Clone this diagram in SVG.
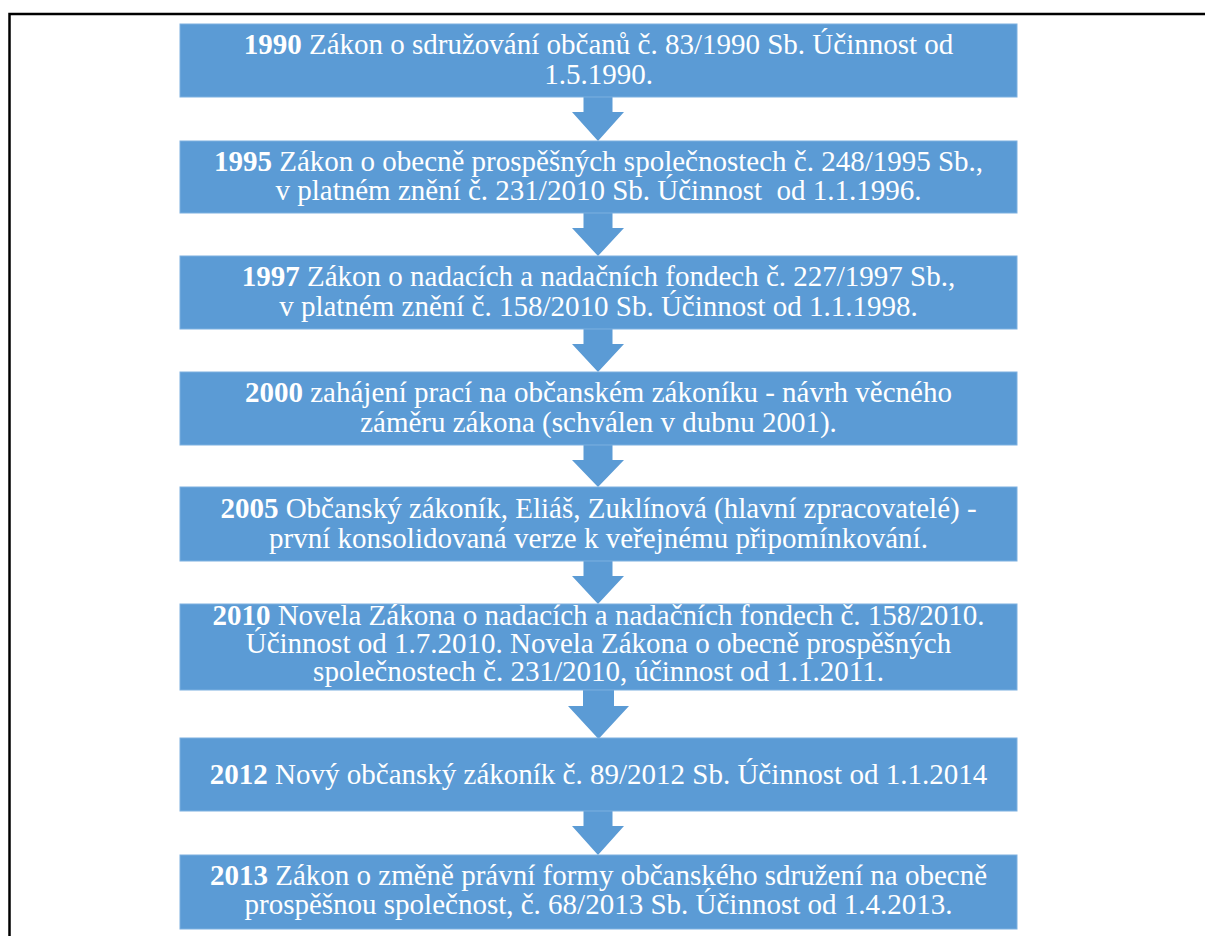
<svg xmlns="http://www.w3.org/2000/svg" width="1205" height="936" viewBox="0 0 1205 936">
  <style>
    .box { fill: #5B9BD5; stroke: #7DB0E0; stroke-width: 1; }
    .arrow { fill: #5B9BD5; }
    .t { font-family: "Liberation Serif", "Times New Roman", serif; font-size: 29px; fill: #ffffff; text-anchor: middle; white-space: pre; }
    .b { font-weight: bold; }
    .frame { fill: none; stroke: #000000; stroke-width: 2.5; }
  </style>

  <rect x="0" y="0" width="1205" height="936" fill="#ffffff"/>

  <!-- page frame -->
  <path class="frame" d="M9.5,936 V14 H1205"/>

  <!-- connectors -->
  <g id="connectors">
    <polygon class="arrow" points="583.5,97 612.5,97 612.5,112 624,112 598,141 572,112 583.5,112"/>
    <polygon class="arrow" points="583.5,213 612.5,213 612.5,228 624,228 598,256 572,228 583.5,228"/>
    <polygon class="arrow" points="583.5,329 612.5,329 612.5,344 624,344 598,372 572,344 583.5,344"/>
    <polygon class="arrow" points="583.5,445 612.5,445 612.5,460 624,460 598,487 572,460 583.5,460"/>
    <polygon class="arrow" points="583.5,561 612.5,561 612.5,576 624,576 598,604 572,576 583.5,576"/>
    <polygon class="arrow" points="583,690 614,690 614,706 629,706 598.5,739 568,706 583,706"/>
    <polygon class="arrow" points="583.5,811 612.5,811 612.5,826 624,826 598,855 572,826 583.5,826"/>
  </g>

  <g id="n1990">
    <rect class="box" x="180" y="24" width="837" height="73"/>
    <text class="t" x="598.5" y="54"><tspan class="b">1990</tspan> Zákon o sdružování občanů č. 83/1990 Sb. Účinnost od</text>
    <text class="t" x="598.5" y="84">1.5.1990.</text>
  </g>

  <g id="n1995">
    <rect class="box" x="180" y="141" width="837" height="72"/>
    <text class="t" x="598.5" y="171"><tspan class="b">1995</tspan> Zákon o obecně prospěšných společnostech č. 248/1995 Sb.,</text>
    <text class="t" x="598.5" y="200">v platném znění č. 231/2010 Sb. Účinnost  od 1.1.1996.</text>
  </g>

  <g id="n1997">
    <rect class="box" x="180" y="256" width="837" height="73"/>
    <text class="t" x="598.5" y="286"><tspan class="b">1997</tspan> Zákon o nadacích a nadačních fondech č. 227/1997 Sb.,</text>
    <text class="t" x="598.5" y="316">v platném znění č. 158/2010 Sb. Účinnost od 1.1.1998.</text>
  </g>

  <g id="n2000">
    <rect class="box" x="180" y="372" width="837" height="73"/>
    <text class="t" x="598.5" y="402"><tspan class="b">2000</tspan> zahájení prací na občanském zákoníku - návrh věcného</text>
    <text class="t" x="598.5" y="432">záměru zákona (schválen v dubnu 2001).</text>
  </g>

  <g id="n2005">
    <rect class="box" x="180" y="487" width="837" height="74"/>
    <text class="t" x="598.5" y="518"><tspan class="b">2005</tspan> Občanský zákoník, Eliáš, Zuklínová (hlavní zpracovatelé) -</text>
    <text class="t" x="598.5" y="548">první konsolidovaná verze k veřejnému připomínkování.</text>
  </g>

  <g id="n2010">
    <rect class="box" x="180" y="604" width="837" height="86"/>
    <text class="t" x="598.5" y="625"><tspan class="b">2010</tspan> Novela Zákona o nadacích a nadačních fondech č. 158/2010.</text>
    <text class="t" x="598.5" y="653">Účinnost od 1.7.2010. Novela Zákona o obecně prospěšných</text>
    <text class="t" x="598.5" y="681">společnostech č. 231/2010, účinnost od 1.1.2011.</text>
  </g>

  <g id="n2012">
    <rect class="box" x="180" y="738" width="837" height="73"/>
    <text class="t" x="598.5" y="784"><tspan class="b">2012</tspan> Nový občanský zákoník č. 89/2012 Sb. Účinnost od 1.1.2014</text>
  </g>

  <g id="n2013">
    <rect class="box" x="180" y="855" width="837" height="74"/>
    <text class="t" x="598.5" y="885"><tspan class="b">2013</tspan> Zákon o změně právní formy občanského sdružení na obecně</text>
    <text class="t" x="598.5" y="914">prospěšnou společnost, č. 68/2013 Sb. Účinnost od 1.4.2013.</text>
  </g>
</svg>
